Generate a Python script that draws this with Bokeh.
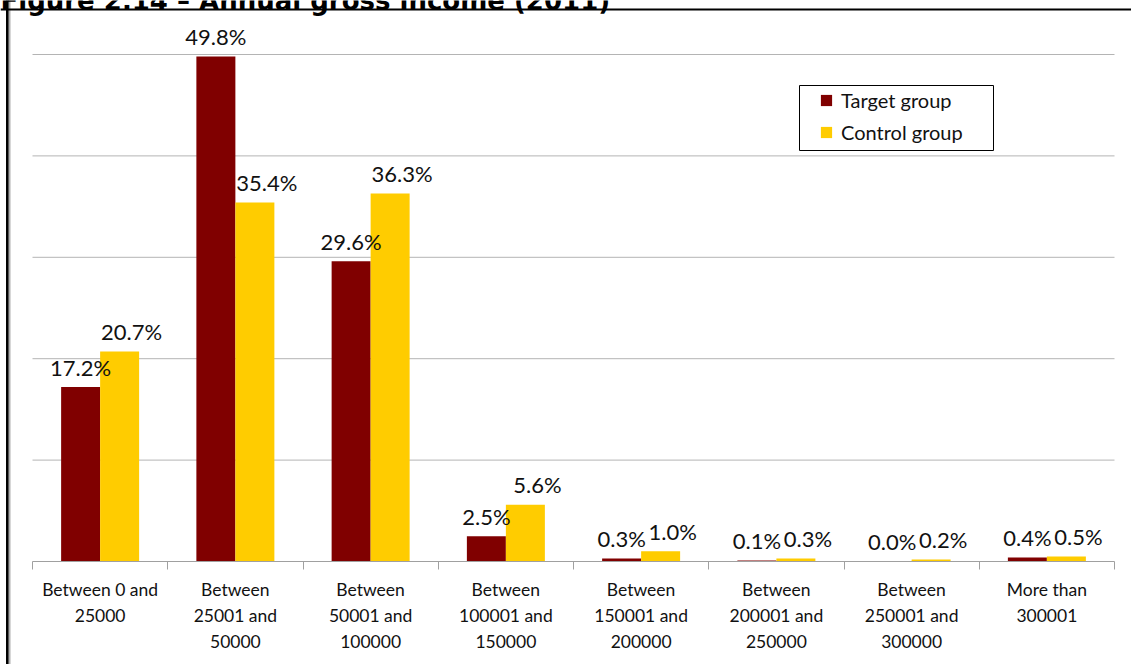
from bokeh.plotting import figure
from bokeh.models import (Range1d, LinearAxis, FixedTicker, Span, Label, Legend,
                          LegendItem, ColumnDataSource, BoxAnnotation)
from bokeh.core.properties import value
from bokeh.embed import file_html
from bokeh.resources import INLINE

categories = ["Between 0 and\n25000", "Between\n25001 and\n50000", "Between\n50001 and\n100000",
              "Between\n100001 and\n150000", "Between\n150001 and\n200000",
              "Between\n200001 and\n250000", "Between\n250001 and\n300000", "More than\n300001"]
target = [17.2, 49.8, 29.6, 2.5, 0.3, 0.1, 0.0, 0.4]
control = [20.7, 35.4, 36.3, 5.6, 1.0, 0.3, 0.2, 0.5]
grid_values = [10, 20, 30, 40, 50]
title_text = "Figure 2.14 \u2013 Annual gross income (2011)"

FONT = "Lato"
W, H = 1131, 664
n = len(categories)
pxu = (1114 - 32) / n          # pixels per category
x0 = -0.5 - 32 / pxu
x1 = n - 0.5 + (W - 1114) / pxu
pyu = (561 - 54) / 50.0
y1 = 50 + 54 / pyu
y0 = -(H - 561) / pyu

p = figure(width=W, height=H, x_range=Range1d(x0, x1), y_range=Range1d(y0, y1),
           output_backend="svg", toolbar_location=None, min_border=0,
           x_axis_location=None, y_axis_location=None)
p.outline_line_color = None
p.grid.visible = False
p.background_fill_color = "white"
p.border_fill_color = "white"

centers = list(range(n))
bw = 39 / pxu
src = ColumnDataSource(dict(
    xt=[c - bw / 2 for c in centers], xc=[c + bw / 2 for c in centers],
    target=target, control=control,
    tl=[f"{v:.1f}%" for v in target], cl=[f"{v:.1f}%" for v in control]))

# gridlines
p.segment(x0=-0.5, x1=n - 0.5, y0=grid_values, y1=grid_values,
          line_color="#b4b4b4", line_width=1)

r1 = p.vbar(x="xt", top="target", width=bw, bottom=0, source=src,
            fill_color="#800000", line_color=None)
r2 = p.vbar(x="xc", top="control", width=bw, bottom=0, source=src,
            fill_color="#FFCC00", line_color=None)

p.text(x="xt", y="target", text="tl", source=src, text_align="center",
       text_baseline="middle", y_offset=-20, text_font=value(FONT),
       text_font_size="22px", text_color="#111111")
p.text(x="xc", y="control", text="cl", source=src, text_align="center",
       text_baseline="middle", y_offset=-20, x_offset=12, text_font=value(FONT),
       text_font_size="22px", text_color="#111111")

xaxis = LinearAxis(ticker=FixedTicker(ticks=centers,
                                      minor_ticks=[c - 0.5 for c in centers] + [n - 0.5]),
                   major_label_overrides={c: categories[c] for c in centers},
                   fixed_location=0, bounds=(-0.5, n - 0.5))
xaxis.axis_line_color = "#a0a0a0"
xaxis.major_tick_line_color = None
xaxis.minor_tick_line_color = "#a0a0a0"
xaxis.minor_tick_in = 0
xaxis.minor_tick_out = 8
xaxis.major_label_standoff = 9
xaxis.major_label_text_font = FONT
xaxis.major_label_text_font_size = "17.5px"
xaxis.major_label_text_color = "#111111"
xaxis.major_label_text_line_height = 1.25
p.add_layout(xaxis, "below")

# legend frame
p.add_layout(BoxAnnotation(left=799, right=993, bottom=H - 150, top=H - 85,
                           left_units="screen", right_units="screen",
                           bottom_units="screen", top_units="screen",
                           fill_color="white", fill_alpha=1,
                           line_color="black", line_width=1, line_alpha=1))

legend = Legend(items=[LegendItem(label="Target group", renderers=[r1]),
                       LegendItem(label="Control group", renderers=[r2])],
                location=(819, H - 144), orientation="vertical",
                glyph_width=14, glyph_height=14, label_height=14, spacing=8,
                padding=5, label_standoff=8,
                label_text_font=FONT, label_text_font_size="20px",
                label_text_color="#111111",
                border_line_color=None, background_fill_alpha=0, margin=0)
p.add_layout(legend, "center")

p.add_layout(Span(location=7, location_units="screen", dimension="height",
                  line_color="black", line_width=3))
p.add_layout(Span(location=9, location_units="screen", dimension="height",
                  line_color="#b0b0b0", line_width=2))
p.add_layout(Span(location=H - 9, location_units="screen", dimension="width",
                  line_color="black", line_width=2))

p.add_layout(Label(x=0, y=H, x_units="screen", y_units="screen", text=title_text,
                   text_font="DejaVu Sans", text_font_style="bold",
                   text_font_size="26px", text_baseline="alphabetic",
                   text_color="black"))

open("out.html", "w").write(file_html(p, INLINE))
